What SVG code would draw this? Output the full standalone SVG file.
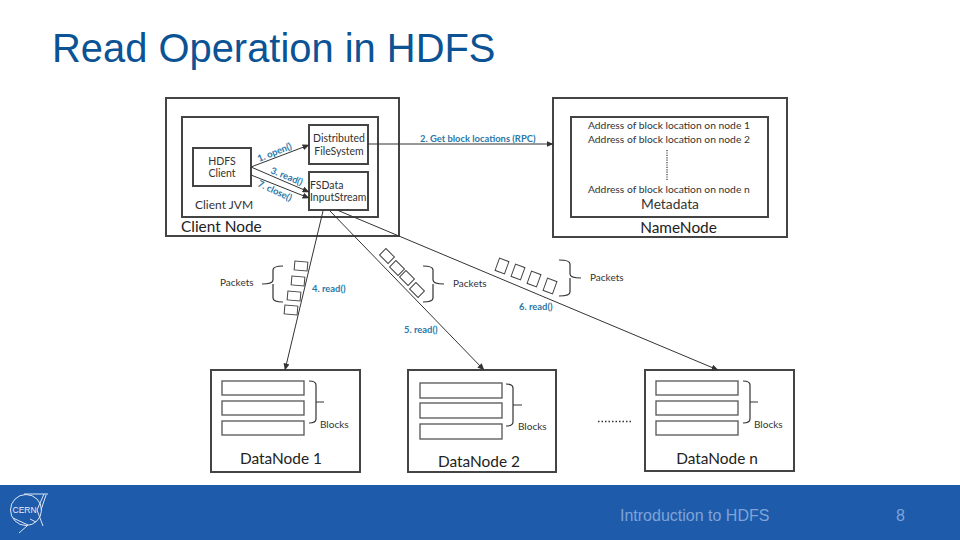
<svg xmlns="http://www.w3.org/2000/svg" width="960" height="540" viewBox="0 0 960 540">
<style>
.box{fill:#fff;stroke:#444;stroke-width:2}
.thin{fill:#fff;stroke:#555;stroke-width:1.3}
.pk{fill:#fff;stroke:#444;stroke-width:1}
.ln{fill:none;stroke:#333;stroke-width:1}
.br{fill:none;stroke:#333;stroke-width:1.2}
text{font-family:"Lato","Liberation Sans",sans-serif;fill:#333}
.s{font-size:10.5px}
.a{font-size:10.3px}
.m{font-size:10px}
.c{text-anchor:middle}
.lb{font-size:15.4px;fill:#222}
.bl{font-size:9.4px;font-weight:700;fill:#2b77a8}
.ft{font-family:"Liberation Sans",Arial,sans-serif;font-size:16px;fill:#7ea4d8}
</style>
<defs>
<marker id="a" markerWidth="7" markerHeight="6" refX="6.5" refY="3" orient="auto" markerUnits="userSpaceOnUse"><path d="M0 0L7 3L0 6z" fill="#333"/></marker>
</defs>
<rect width="960" height="540" fill="#fff"/>
<text x="52" y="62" style="font-family:'Liberation Sans',Arial,sans-serif;font-size:39.900px;fill:#0b5394">Read Operation in HDFS</text>

<g id="client-node">
<rect class="box" x="166" y="98" width="233" height="138"/>
<text class="lb" x="181" y="232">Client Node</text>
</g>
<g id="client-jvm">
<rect class="box" x="182" y="117" width="196" height="100"/>
<text x="195" y="209" style="font-size:12px">Client JVM</text>
</g>
<g id="hdfs-client">
<rect class="box" x="193" y="148" width="58" height="38"/>
<text class="s c" x="222" y="165">HDFS</text>
<text class="s c" x="222" y="177">Client</text>
</g>
<g id="dfs">
<rect class="box" x="309" y="125" width="59" height="39"/>
<text class="s c" x="339" y="142">Distributed</text>
<text class="s c" x="339" y="155">FileSystem</text>
</g>
<g id="fsdata">
<rect class="box" x="309" y="172" width="59" height="38"/>
<text class="s" x="310" y="189">FSData</text>
<text class="s" x="310" y="201">InputStream</text>
</g>
<g id="namenode">
<rect class="box" x="553" y="98" width="234" height="139"/>
<text class="c lb" x="678.500" y="233">NameNode</text>
</g>
<g id="metadata">
<rect class="box" x="571" y="117" width="197" height="100"/>
<text class="a" x="588" y="129">Address of block location on node 1</text>
<text class="a" x="588" y="143">Address of block location on node 2</text>
<line x1="667" y1="150" x2="667" y2="180" stroke="#333" stroke-width="1.2" stroke-dasharray="1.2 1.2"/>
<text class="a" x="588" y="193">Address of block location on node n</text>
<text class="c" x="670" y="209" style="font-size:13.800px">Metadata</text>
</g>
<g id="datanode-1">
<rect class="box" x="211" y="370" width="149" height="102"/>
<rect class="thin" x="222" y="381" width="82" height="14"/>
<rect class="thin" x="222" y="401" width="82" height="14"/>
<rect class="thin" x="222" y="421" width="82" height="14"/>
<path class="br" d="M309 381Q316 381 316 385V402Q316 402 324 402M316 402V419Q316 423 309 423"/>
<text class="m" x="320" y="428">Blocks</text>
<text class="c lb" x="281" y="464">DataNode 1</text>
</g>
<g id="datanode-2">
<rect class="box" x="408" y="370" width="148" height="102"/>
<rect class="thin" x="420" y="383" width="82" height="15"/>
<rect class="thin" x="420" y="403" width="82" height="15"/>
<rect class="thin" x="420" y="424" width="82" height="15"/>
<path class="br" d="M506 384Q513 384 513 388V405Q513 405 522 405M513 405V422Q513 426 506 426"/>
<text class="m" x="518" y="430">Blocks</text>
<text class="c lb" x="479" y="467">DataNode 2</text>
</g>
<g id="datanode-n">
<rect class="box" x="645" y="370" width="149" height="101"/>
<rect class="thin" x="656" y="381" width="82" height="14"/>
<rect class="thin" x="656" y="401" width="82" height="14"/>
<rect class="thin" x="656" y="421" width="82" height="14"/>
<path class="br" d="M743 381Q750 381 750 385V402Q750 402 758 402M750 402V419Q750 423 743 423"/>
<text class="m" x="754" y="428">Blocks</text>
<text class="c lb" x="717" y="464">DataNode n</text>
</g>
<line id="ellipsis" x1="598" y1="421.500" x2="632" y2="421.500" stroke="#333" stroke-width="1.300" stroke-dasharray="1.500 2"/>

<g id="connectors">
<line class="ln" x1="251" y1="167" x2="309" y2="145" marker-end="url(#a)"/>
<line class="ln" x1="251" y1="167" x2="309" y2="192" marker-end="url(#a)"/>
<line class="ln" x1="251" y1="175" x2="309" y2="198" marker-end="url(#a)"/>
<line class="ln" x1="368" y1="144" x2="553" y2="144" marker-end="url(#a)"/>
<line class="ln" x1="323" y1="211" x2="285" y2="370" marker-end="url(#a)"/>
<line class="ln" x1="330" y1="211" x2="484" y2="370" marker-end="url(#a)"/>
<line class="ln" x1="337" y1="210" x2="718" y2="370" marker-end="url(#a)"/>
</g>
<g id="connector-labels">
<text class="bl" transform="translate(259 162) rotate(-22)">1. open()</text>
<text class="bl" transform="translate(270 173) rotate(22)">3. read()</text>
<text class="bl" transform="translate(257 186) rotate(25)">7. close()</text>
<text class="bl" x="420" y="141.500">2. Get block locations (RPC)</text>
<text class="bl" x="312" y="292">4. read()</text>
<text class="bl" x="404" y="333">5. read()</text>
<text class="bl" x="519" y="310">6. read()</text>
</g>
<g id="packets-4">
<rect class="pk" x="294.500" y="261.500" width="13" height="9" transform="rotate(5 301 266)"/>
<rect class="pk" x="291.500" y="276.500" width="13" height="9" transform="rotate(5 298 281)"/>
<rect class="pk" x="287.500" y="291.500" width="13" height="9" transform="rotate(5 294 296)"/>
<rect class="pk" x="284.500" y="305.500" width="13" height="9" transform="rotate(5 291 310)"/>
<path class="br" d="M283 266Q273 266 273 270V280Q273 284 262 284M273 284V298Q273 302 283 302"/>
<text class="m" x="220" y="286">Packets</text>
</g>
<g id="packets-5">
<rect class="pk" x="381" y="251.500" width="12" height="9" transform="rotate(45 387 256)"/>
<rect class="pk" x="391" y="263.500" width="12" height="9" transform="rotate(45 397 268)"/>
<rect class="pk" x="401" y="273.500" width="12" height="9" transform="rotate(45 407 278)"/>
<rect class="pk" x="411" y="285.500" width="12" height="9" transform="rotate(45 417 290)"/>
<path class="br" d="M423 266Q433 266 433 270V280Q433 284 444 284M433 284V298Q433 302 423 302"/>
<text class="m" x="453" y="287">Packets</text>
</g>
<g id="packets-6">
<rect class="pk" x="497" y="259.500" width="10" height="13" transform="rotate(20 502 266)"/>
<rect class="pk" x="513" y="265.500" width="10" height="13" transform="rotate(20 518 272)"/>
<rect class="pk" x="529" y="272.500" width="10" height="13" transform="rotate(20 534 279)"/>
<rect class="pk" x="545" y="279.500" width="10" height="13" transform="rotate(20 550 286)"/>
<path class="br" d="M559 260Q570 260 570 264V274Q570 278 581 278M570 278V292Q570 296 559 296"/>
<text class="m" x="590" y="281">Packets</text>
</g>

<g id="footer">
<rect x="0" y="485" width="960" height="55" fill="#1f5bab"/>
<text class="ft" x="620" y="520.500">Introduction to HDFS</text>
<text class="ft" x="896" y="520.500">8</text>
</g>
<g id="cern-logo" fill="none" stroke="#dbe6f5" stroke-width="1">
<circle cx="26" cy="510" r="15.500"/>
<path d="M24 494H48M44 494L37 510L43 526M46 495L41 510M13 518L28 525L19 533M30 519L36 522"/>
<text x="12.500" y="513" stroke="none" style="font-family:'Liberation Sans',Arial,sans-serif;font-size:8.500px;fill:#e6eef9">CERN</text>
</g>
</svg>
